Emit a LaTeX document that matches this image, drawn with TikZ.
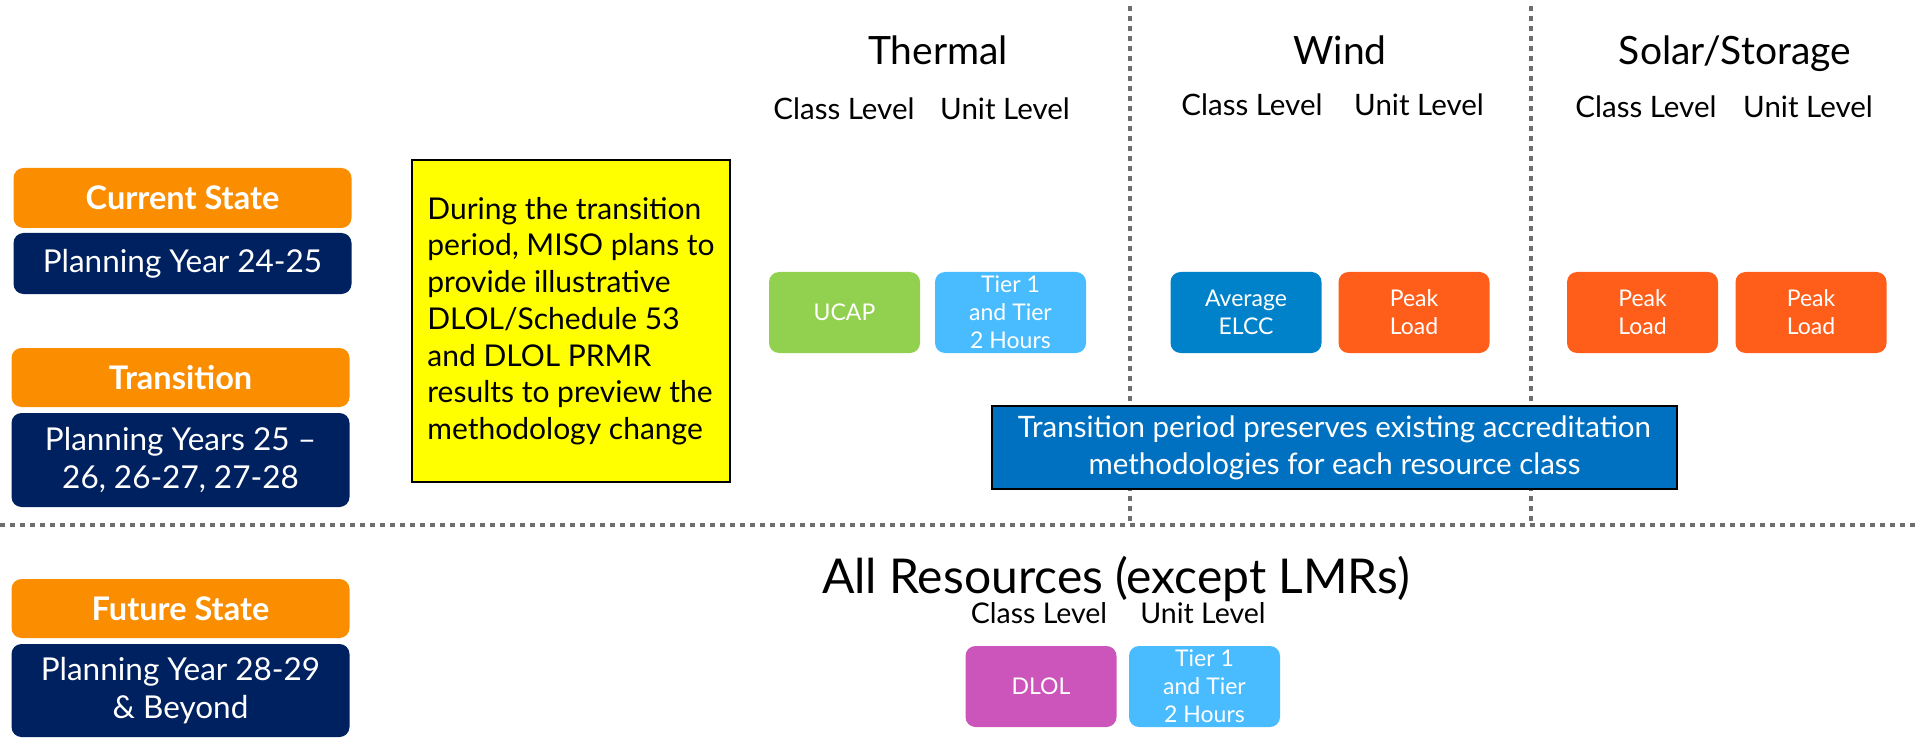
\documentclass[tikz,border=0pt]{standalone}
\usepackage{fontspec}
\setmainfont{Lato}
\definecolor{orng}{RGB}{250,142,0}
\definecolor{navy}{RGB}{0,33,96}
\definecolor{ylw}{RGB}{255,255,0}
\definecolor{grn}{RGB}{146,208,80}
\definecolor{lblue}{RGB}{72,188,255}
\definecolor{mblue}{RGB}{0,130,202}
\definecolor{porng}{RGB}{255,94,26}
\definecolor{tblue}{RGB}{0,112,192}
\definecolor{mag}{RGB}{204,85,187}
\definecolor{dotgray}{RGB}{110,110,110}
\tikzset{
  sep/.style={draw=dotgray, line width=4pt, dash pattern=on 5pt off 5pt},
  stage/.style={rounded corners=10pt, fill=orng, text=white, inner sep=0pt,
    minimum width=338pt, font={\fontsize{32.5}{38}\selectfont\bfseries}},
  years/.style={rounded corners=10pt, fill=navy, text=white, inner sep=0pt,
    minimum width=338pt, align=center, font={\fontsize{31.5}{38}\selectfont}},
  method/.style={rounded corners=10pt, text=white, inner sep=0pt,
    minimum width=151pt, minimum height=81pt, align=center,
    font={\fontsize{23}{28}\selectfont}},
  head/.style={anchor=base, inner sep=0pt, font={\fontsize{39}{44}\selectfont}},
  level/.style={anchor=base, inner sep=0pt, font={\fontsize{29.5}{33}\selectfont}},
  note/.style={draw=black, line width=1.5pt, inner sep=0pt}
}
\begin{document}
\begin{tikzpicture}[x=1pt,y=-1pt]
\useasboundingbox (0,0) rectangle (1915,738);
% separators
\coordinate (v1t) at (1130,6);  \coordinate (v1b) at (1130,523);
\coordinate (v2t) at (1531,6);  \coordinate (v2b) at (1531,523);
\coordinate (hl) at (0,525);    \coordinate (hr) at (1915,525);
\draw[sep] (v1t) -- (v1b);
\draw[sep] (v2t) -- (v2b);
\draw[sep] (hl) -- (hr);
% left stage labels
\node[stage, minimum height=60pt] (cs) at (182.5,198) {Current State};
\node[years, minimum height=61pt] (py1) at (182.5,263.5) {Planning Year 24-25};
\node[stage, minimum height=59pt] (tr) at (180.5,377.5) {Transition};
\node[years, minimum height=94pt] (py2) at (180.5,460) {Planning Years 25 --\\26, 26-27, 27-28};
\node[stage, minimum height=59pt] (fs) at (180.5,608.5) {Future State};
\node[years, minimum height=93pt] (py3) at (180.5,690.5) {Planning Year 28-29\\\& Beyond};
% yellow note
\node[note, fill=ylw, minimum width=318pt, minimum height=322pt, align=left,
  font={\fontsize{30}{36.7}\selectfont}] (yn) at (571,321)
  {During the transition\\period, MISO plans to\\provide illustrative\\DLOL/Schedule 53\\and DLOL PRMR\\results to preview the\\methodology change};
% headers
\node[head] (th) at (938,65) {Thermal};
\node[level] (thc) at (844,120) {Class Level};
\node[level] (thu) at (1005,120) {Unit Level};
\node[head] (wi) at (1340,65) {Wind};
\node[level] (wic) at (1252,116) {Class Level};
\node[level] (wiu) at (1419,116) {Unit Level};
\node[head] (so) at (1735,65) {Solar/Storage};
\node[level] (soc) at (1646,118) {Class Level};
\node[level] (sou) at (1808,118) {Unit Level};
% method boxes
\node[method, fill=grn] (ucap) at (844.5,312.5) {UCAP};
\node[method, fill=lblue] (tier1) at (1010.5,312.5) {Tier 1\\and Tier\\2 Hours};
\node[method, fill=mblue] (elcc) at (1246,312.5) {Average\\ELCC};
\node[method, fill=porng] (pw) at (1414,312.5) {Peak\\Load};
\node[method, fill=porng] (ps1) at (1642.5,312.5) {Peak\\Load};
\node[method, fill=porng] (ps2) at (1811,312.5) {Peak\\Load};
% transition note
\node[note, fill=tblue, text=white, minimum width=685pt, minimum height=83pt,
  align=center, font={\fontsize{29.5}{37}\selectfont}] (tn) at (1334.5,447.5)
  {Transition period preserves existing accreditation\\methodologies for each resource class};
% future state
\node[anchor=base, inner sep=0pt, font={\fontsize{48}{55}\selectfont}] (all) at (1116,593) {All Resources (except LMRs)};
\node[level, font={\fontsize{28.5}{32}\selectfont}] (fc) at (1039,623) {Class Level};
\node[level, font={\fontsize{28.5}{32}\selectfont}] (fu) at (1203,623) {Unit Level};
\node[method, fill=mag] (dlol) at (1041,686.5) {DLOL};
\node[method, fill=lblue] (tier2) at (1204.5,686.5) {Tier 1\\and Tier\\2 Hours};
\end{tikzpicture}
\end{document}
